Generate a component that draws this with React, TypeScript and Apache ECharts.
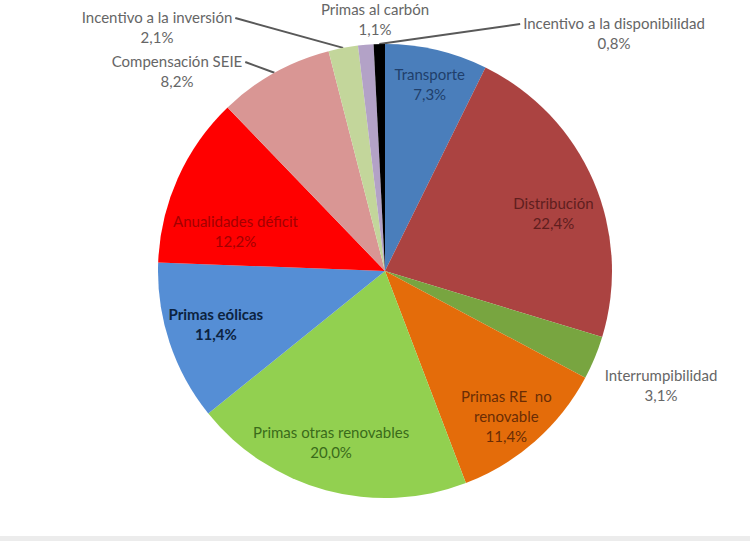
import React, { useEffect, useRef } from "react";
import * as echarts from "echarts";

const categories = [
  "Transporte",
  "Distribución",
  "Interrumpibilidad",
  "Primas RE  no\nrenovable",
  "Primas otras renovables",
  "Primas eólicas",
  "Anualidades déficit",
  "Compensación SEIE",
  "Incentivo a la inversión",
  "Primas al carbón",
  "Incentivo a la disponibilidad",
];
const shares = [7.3, 22.4, 3.1, 11.4, 20.0, 11.4, 12.2, 8.2, 2.1, 1.1, 0.8];

const sliceColors = [
  "#4a7ebb", "#ab4341", "#78a540", "#e46c0a", "#92d050", "#558ed5",
  "#ff0000", "#d99694", "#c3d69b", "#b3a2c7", "#000000",
];
const insideLabelColors = [
  "#203f6b", "#5f1e1e", "", "#6a2c05", "#3a6b1a", "#0c2340", "#a30000", "", "", "", "",
];

const outsideIdx = [2, 7, 8, 9, 10];
const outsideLabelPos: Record<number, [number, number]> = {
  2: [661, 385],
  7: [177, 71],
  8: [157, 27],
  9: [375, 19],
  10: [614, 33],
};
const leaderSide: Record<number, "left" | "right"> = { 7: "right", 8: "right", 10: "left" };
const insideOffsets: Record<number, [number, number]> = {
  0: [3, -8],
  1: [0, 15],
  3: [0, 7],
  4: [-6, -6],
  5: [5, -5],
  6: [18, 35],
};

const CX = 385;
const CY = 271;
const R = 227;
const FONT = "Lato, 'Open Sans', sans-serif";
const FS = 15;

const fmt = (v: number) => v.toFixed(1).replace(".", ",") + "%";

export default function App() {
  const ref = useRef<HTMLDivElement>(null);
  useEffect(() => {
    if (!ref.current) return;
    const chart = echarts.init(ref.current, undefined, { renderer: "svg" });
    chart.setOption({
      animation: false,
      backgroundColor: "#ffffff",
      graphic: [
        {
          type: "rect",
          x: 0,
          y: 536,
          shape: { width: 750, height: 5 },
          style: { fill: "#ececec" },
          silent: true,
        },
      ],
      series: [
        {
          type: "pie",
          center: [CX, CY],
          radius: [0, R],
          startAngle: 90,
          clockwise: true,
          avoidLabelOverlap: false,
          silent: true,
          data: categories.map((name, i) => ({
            name,
            value: shares[i],
            itemStyle: { color: sliceColors[i] },
            label: { show: outsideIdx.includes(i) },
            labelLine: { show: leaderSide[i] !== undefined },
          })),
          label: {
            position: "outside",
            formatter: (p: any) => `${p.name}\n${fmt(p.value)}`,
            color: "#666666",
            fontFamily: FONT,
            fontSize: FS,
            lineHeight: 20,
          },
          labelLine: {
            length: 10,
            length2: 10,
            lineStyle: { color: "#595959", width: 2 },
          },
          labelLayout: (p: any) => {
            const pos = outsideLabelPos[p.dataIndex];
            if (!pos) return {};
            const [x, y] = pos;
            const res: any = { x, y, align: "center", verticalAlign: "middle" };
            const side = leaderSide[p.dataIndex];
            if (side && p.labelLinePoints && p.labelRect) {
              const w = p.labelRect.width;
              const ex = side === "right" ? x + w / 2 + 3 : x - w / 2 - 3;
              res.labelLinePoints = [p.labelLinePoints[0], [ex, y - 9]];
            }
            return res;
          },
        },
        {
          type: "pie",
          center: [CX, CY],
          radius: [134, R],
          startAngle: 90,
          clockwise: true,
          avoidLabelOverlap: false,
          silent: true,
          data: categories.map((name, i) => ({
            name,
            value: shares[i],
            itemStyle: { color: "rgba(0,0,0,0)", borderWidth: 0 },
            label: {
              show: !outsideIdx.includes(i),
              color: insideLabelColors[i] || "#333",
              fontWeight: i === 5 ? "bold" : "normal",
            },
          })),
          label: {
            position: "inside",
            formatter: (p: any) => `${p.name}\n${fmt(p.value)}`,
            fontFamily: FONT,
            fontSize: FS,
            lineHeight: 20,
          },
          labelLine: { show: false },
          labelLayout: (p: any) => {
            const o = insideOffsets[p.dataIndex];
            return o ? { dx: o[0], dy: o[1] } : {};
          },
        },
      ],
    });
    return () => chart.dispose();
  }, []);
  return (
    <div
      ref={ref}
      style={{ position: "fixed", left: 0, top: 0, width: 750, height: 547, background: "#fff" }}
    />
  );
}
